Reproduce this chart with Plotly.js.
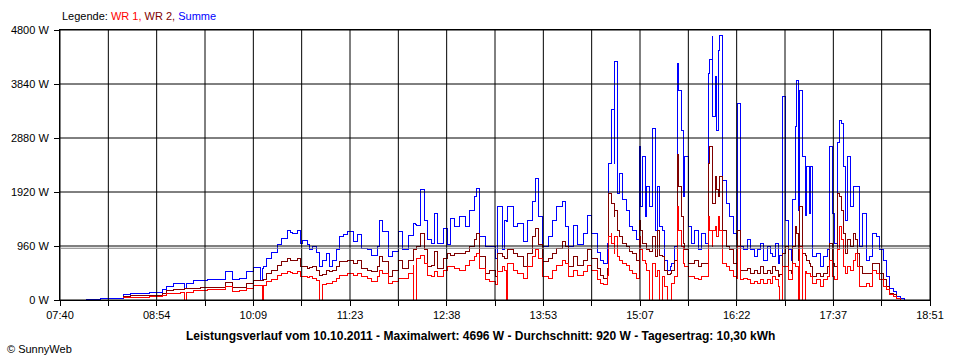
<!DOCTYPE html>
<html><head><meta charset="utf-8">
<script src="https://cdn.plot.ly/plotly-3.0.1.min.js"></script>
<style>html,body{margin:0;padding:0;background:#fff;overflow:hidden;} #chart{width:960px;height:360px;}
#chart path.js-line{shape-rendering:crispEdges;}</style>
</head><body><div id="chart"></div>
<script>
// Sample times, minutes since midnight
const timeMin = [
480.0,490.9,497.0,502.4,508.6,514.0,521.7,529.4,534.8,539.4,542.5,547.2,552.6,556.4,557.9,562.6,568.0,573.4,581.1,587.3,
593.4,598.8,604.2,608.9,614.3,615.8,617.3,619.6,623.5,627.4,631.2,635.1,637.4,639.7,642.8,645.1,647.4,650.5,652.8,655.1,
658.2,660.5,662.1,665.9,668.2,670.5,673.6,675.9,678.3,682.1,686.0,689.1,692.9,696.8,700.6,704.5,706.8,709.1,713.0,716.8,
720.7,724.5,728.4,732.3,733.0,733.8,734.6,738.4,741.5,743.8,746.9,749.2,751.5,755.4,758.5,760.8,764.6,768.5,772.4,776.2,
779.3,781.6,783.9,787.8,791.6,795.5,797.8,800.9,803.2,804.0,804.8,805.5,809.4,813.2,817.1,820.9,824.8,827.1,829.4,832.5,
836.4,839.5,843.3,847.2,849.5,851.8,855.7,859.5,863.4,867.2,870.3,874.2,876.5,878.8,881.9,883.4,885.0,885.7,887.3,888.0,
889.6,891.9,894.2,897.3,899.6,901.9,905.0,906.6,908.1,909.6,911.2,912.7,915.0,916.6,918.9,921.2,922.7,924.3,926.6,928.9,
930.5,932.0,934.3,935.9,937.4,939.0,940.5,942.0,944.4,947.4,949.7,952.1,955.1,957.5,959.8,961.3,962.9,963.6,965.2,966.7,
967.5,969.0,970.6,971.3,974.4,976.7,979.1,982.1,982.9,984.5,986.8,989.9,992.2,996.0,998.3,999.9,1002.2,1005.3,1007.6,1009.9,
1011.5,1013.8,1015.3,1016.9,1017.6,1019.2,1021.5,1023.8,1025.3,1026.9,1028.4,1029.2,1030.7,1032.3,1033.0,1034.6,1036.1,1037.7,1039.2,1040.7,
1043.8,1046.2,1048.5,1051.6,1053.1,1055.5,1057.0,1059.3,1060.9,1062.4,1064.0,1065.5,1067.0,1069.3,1071.7,1073.2,1074.7,1077.0,1079.3,1082.4,
1084.7,1087.0,1090.1,1092.4,1094.8,1097.8,1100.1,1102.5,1105.5,1107.9,1111.7
];
// Summe (W)
const summe = [
15,18,25,30,100,110,120,130,137,180,237,296,300,210,296,343,355,367,356,504,
356,390,500,570,350,560,600,740,840,990,1100,1244,1200,1185,1240,1000,1050,978,900,950,
850,600,700,820,600,711,890,1126,1156,1210,1037,1156,919,889,800,948,1422,1215,770,859,
1215,900,1150,1363,1363,1340,1333,1956,1422,1067,1007,1541,1007,1274,978,1452,1304,1481,1304,1600,
1837,1985,1126,948,948,741,1659,889,1422,1400,1450,1659,1304,1363,1037,1422,1748,2163,1481,948,
1126,1422,1659,1748,1304,948,1333,978,1185,1511,1185,850,711,652,1007,2430,2963,3378,2430,4237,
1896,2252,1778,1600,1304,1244,1067,2726,1659,2548,1481,2015,1659,3052,1244,2015,1300,1244,711,520,
600,652,948,4207,3733,3022,1837,2548,1304,1007,1244,889,1185,1007,4030,4267,4681,3259,3970,3022,
4444,4696,2726,2133,1719,1481,1185,1067,3496,948,889,1067,889,770,889,1007,711,948,830,770,
1007,652,800,1007,3615,1422,889,711,1778,3081,3911,1600,3733,3615,2548,1500,2370,1541,2370,770,
830,593,770,889,2726,1541,1007,2800,3200,3141,2370,1422,2548,1659,2015,2015,2015,948,1541,711,
770,1185,1126,889,711,415,207,148,59,18,5
];
// WR 2 (W)
const wr2 = [
null,null,null,null,65,75,83,80,83,120,172,183,195,208,208,208,215,219,225,308,
219,230,296,340,340,340,360,470,520,622,690,741,700,711,730,593,600,563,580,593,
520,444,460,520,500,533,593,681,681,711,652,711,563,533,504,593,770,681,415,533,
711,560,700,889,889,900,948,1185,889,593,622,859,563,741,830,800,830,830,859,948,
1067,1185,770,474,533,415,830,770,741,741,760,889,830,770,593,830,1126,1274,978,681,
741,830,919,1037,948,593,770,622,711,889,741,560,444,385,563,1896,1837,1719,1481,1600,
1244,1126,1007,948,859,830,711,1422,1244,1007,1007,889,859,1126,770,1244,800,770,533,450,
480,533,711,2578,2015,1481,1007,889,652,652,711,593,652,652,2430,2726,1956,1719,2193,1956,
1837,2193,1956,1244,948,889,652,652,1244,533,533,563,474,533,474,593,474,533,474,593,
533,415,450,593,830,948,533,474,948,1304,1185,711,1659,948,830,800,711,652,593,415,
474,415,474,593,1007,652,593,1896,1837,1600,1185,830,1067,948,1185,1067,830,593,474,474,
474,652,652,474,356,237,119,89,30,5,null
];
// WR 1 (W)
const wr1 = [
null,null,null,null,45,45,48,55,60,80,107,119,125,0,136,166,172,178,183,237,
160,170,207,260,250,0,250,330,370,444,480,504,490,474,500,415,420,400,410,380,
350,0,280,296,300,326,385,444,444,474,444,474,415,385,326,415,533,474,296,326,
385,380,474,622,0,0,741,800,652,444,415,504,415,533,593,593,563,533,622,711,
770,830,563,356,326,267,504,593,533,0,0,652,533,474,385,593,770,889,741,415,
385,533,622,711,652,415,533,444,504,622,533,360,296,267,444,1126,1185,1007,830,1126,
770,711,652,622,533,474,385,1126,889,711,652,533,0,652,415,533,0,415,237,0,
0,296,415,1659,1244,948,652,593,415,415,385,356,415,415,1481,1244,948,1244,1304,1126,
1481,1244,1126,652,593,533,415,385,948,356,385,356,296,326,296,356,296,356,296,415,
356,237,0,415,593,593,356,356,652,593,593,0,948,0,0,500,474,474,415,296,
356,237,356,415,711,415,356,889,1304,1067,593,474,593,533,711,830,593,237,237,296,
237,533,474,356,237,178,89,59,30,5,null
];
const xTickLabels = ['07:40','08:54','10:09','11:23','12:38','13:53','15:07','16:22','17:37','18:51'];
const yTickValues = [0,960,1920,2880,3840,4800];
const average = 920;
const titleText = 'Leistungsverlauf vom 10.10.2011 - Maximalwert: 4696 W - Durchschnitt: 920 W - Tagesertrag: 10,30 kWh';

function toMin(s){const p=s.split(':');return (+p[0])*60+(+p[1]);}
const xStart = toMin(xTickLabels[0]);
const xEnd = toMin(xTickLabels[xTickLabels.length-1]);
const nGrid = (xTickLabels.length-1)*2;
const xTickVals = [], xTickText = [];
for(let i=0;i<=nGrid;i++){
  xTickVals.push(xStart + i*(xEnd-xStart)/nGrid);
  xTickText.push(i%2===0 ? xTickLabels[i/2] : '');
}
const yMax = yTickValues[yTickValues.length-1];

const shapes = [];
xTickVals.forEach(v=>shapes.push({type:'line',xref:'x',yref:'paper',x0:v,x1:v,y0:0,y1:1,line:{color:'#000',width:1},layer:'above'}));
yTickValues.forEach(v=>shapes.push({type:'line',xref:'paper',yref:'y',x0:0,x1:1,y0:v,y1:v,line:{color:'#000',width:1},layer:'above'}));
shapes.push({type:'line',xref:'paper',yref:'y',x0:0,x1:1,y0:average,y1:average,line:{color:'#808080',width:1},layer:'above'});

const mk=(y,c)=>({x:timeMin,y:y,type:'scatter',mode:'lines',line:{color:c,width:1,shape:'hv'},connectgaps:false,hoverinfo:'skip'});
const data=[mk(summe,'#0000FF'),mk(wr2,'#800000'),mk(wr1,'#FF0000')];

const font={family:'"Liberation Sans", Arial, sans-serif',size:11,color:'#000'};
const layout={
  width:960,height:360,
  margin:{l:60,r:30,t:30,b:60,pad:0},
  paper_bgcolor:'#fff',plot_bgcolor:'#fff',
  showlegend:false,
  font:font,
  xaxis:{range:[xStart,xEnd],tickmode:'array',tickvals:xTickVals,ticktext:xTickText,
    showgrid:false,zeroline:false,showline:true,mirror:true,linecolor:'#000',linewidth:1,
    ticks:'outside',ticklen:5,tickwidth:1,tickcolor:'#000',tickfont:font,fixedrange:true},
  yaxis:{range:[0,yMax],tickmode:'array',tickvals:yTickValues,ticktext:yTickValues.map(v=>v+' W'),
    showgrid:false,zeroline:false,showline:true,mirror:true,linecolor:'#000',linewidth:1,
    ticks:'outside',ticklen:5,tickwidth:1,tickcolor:'#000',tickfont:font,ticklabelstandoff:3,fixedrange:true},
  shapes:shapes,
  annotations:[
    {xref:'paper',yref:'paper',x:0,y:1.052,xanchor:'left',yanchor:'middle',showarrow:false,
     text:'Legende: <span style="color:#FF0000">WR 1,</span> <span style="color:#800000">WR 2,</span> <span style="color:#0000FF">Summe</span>',font:font},
    {xref:'paper',yref:'paper',x:0.4828,y:-0.133,xanchor:'center',yanchor:'middle',showarrow:false,
     text:'<b>'+titleText+'</b>',font:{family:font.family,size:12,color:'#000'}},
    {xref:'paper',yref:'paper',x:-0.063,y:-0.183,xanchor:'left',yanchor:'middle',showarrow:false,
     text:'© SunnyWeb',font:font}
  ]
};
Plotly.newPlot('chart',data,layout,{staticPlot:true,displayModeBar:false});
</script></body></html>
